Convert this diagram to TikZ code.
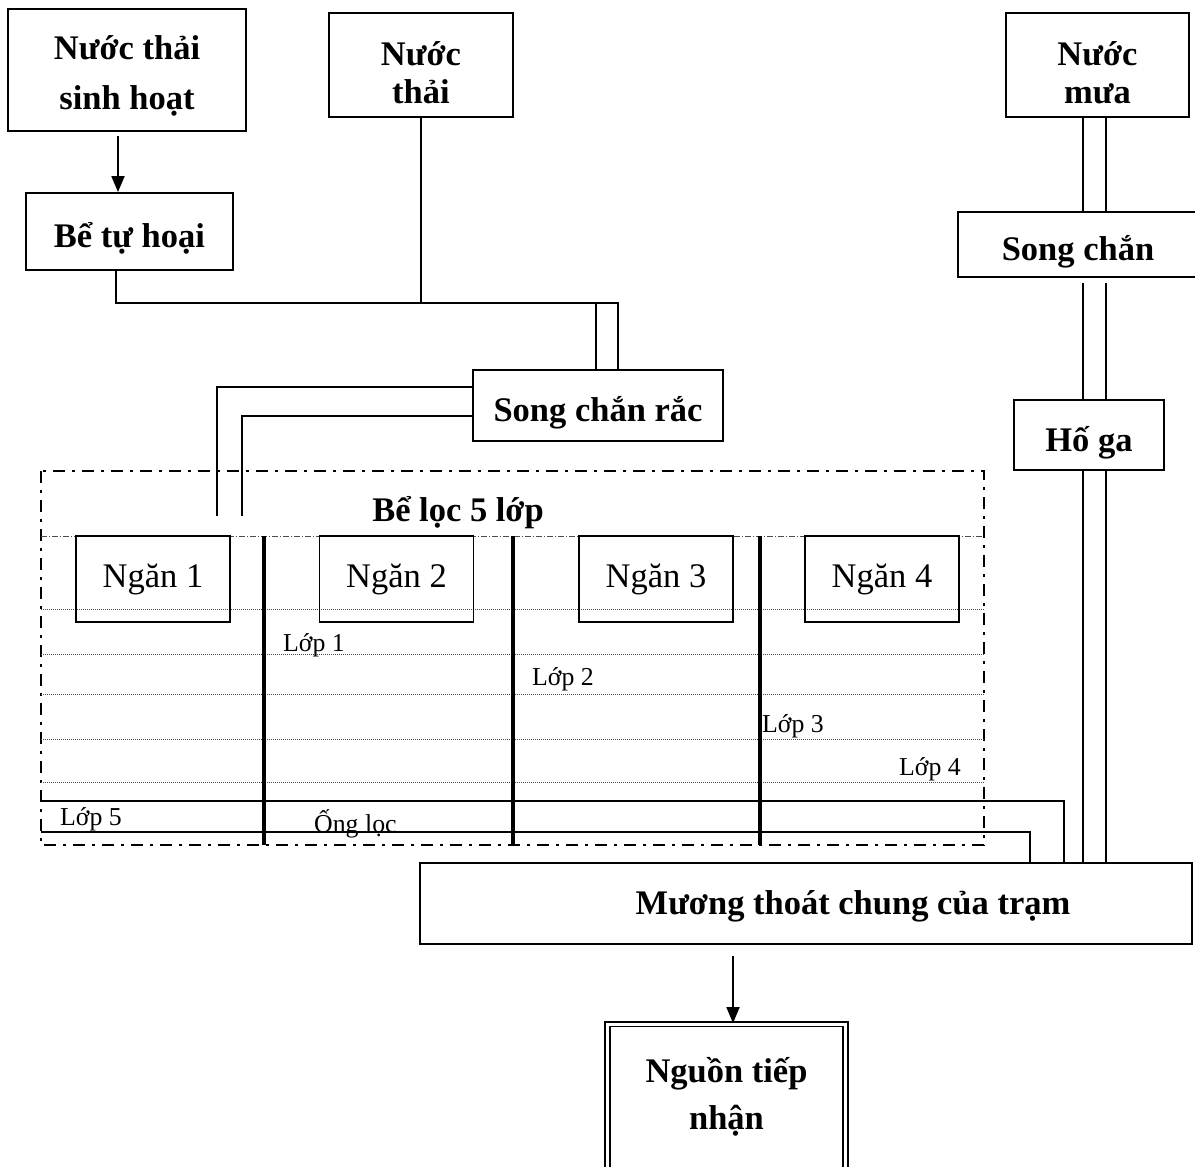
\documentclass[tikz,border=0pt]{standalone}
\usepackage{fontspec}
\setmainfont{Liberation Serif}
\usetikzlibrary{arrows.meta}

\begin{document}
\begin{tikzpicture}[x=1pt, y=-1pt,
  box/.style={draw, line width=1.8pt, inner sep=0pt, align=center,
    text height=40pt, text depth=8pt, font=\bfseries\fontsize{34.5}{38}\selectfont},
  boxtext/.style={align=center, inner sep=0pt, font=\bfseries\fontsize{34.5}{38}\selectfont},
  cell/.style={draw, line width=1.8pt, minimum width=154pt, minimum height=86pt,
    inner sep=0pt, font=\fontsize{34.5}{38}\selectfont},
  pipe/.style={line width=1.8pt},
  arr/.style={line width=1.8pt, -{Triangle[length=16pt,width=13pt]}},
  tank/.style={line width=2.5pt, dash pattern=on 12pt off 7pt on 3pt off 7pt},
  layer/.style={gray!60!black, line width=0.9pt, dash pattern=on 1.2pt off 0.8pt},
  topline/.style={gray!60!black, line width=0.9pt, dash pattern=on 6pt off 2pt on 1pt off 2pt},
  wall/.style={line width=3.5pt},
  lbl/.style={inner sep=0pt, font=\fontsize{25.8}{28}\selectfont}]
  \useasboundingbox (0,0) rectangle (1195,1167);

  % Sources
  \node[box, minimum width=238pt, minimum height=122pt,
    label={[boxtext, yshift=-6pt, font=\bfseries\fontsize{34.5}{50}\selectfont]center:{Nước thải\\sinh hoạt}}]
    (ntsh) at (127,70) {};
  \node[box, minimum width=207pt, minimum height=77pt] (tuhoai) at (129.5,231.5) {Bể tự hoại};
  \node[box, minimum width=184pt, minimum height=104pt,
    label={[boxtext, yshift=-8pt]center:{Nước\\thải}}] (nthai) at (421,65) {};
  \node[box, minimum width=250pt, minimum height=71pt] (sccrac) at (598,405.5) {Song chắn rắc};

  % Rain water branch
  \node[box, minimum width=183pt, minimum height=104pt,
    label={[boxtext, yshift=-8pt]center:{Nước\\mưa}}] (mua) at (1097.5,65) {};
  \node[box, minimum width=240pt, minimum height=65pt] (songchan) at (1078,244.5) {Song chắn};
  \node[box, minimum width=150pt, minimum height=70pt] (hoga) at (1089,435) {Hố ga};

  % Outlet
  \node[box, minimum width=772pt, minimum height=81pt,
    label={[boxtext, xshift=47pt, yshift=-3pt]center:Mương thoát chung của trạm}]
    (muong) at (806,903.5) {};
  \node[box, double, double distance=3pt, minimum width=238.5pt, minimum height=146pt,
    label={[boxtext, font=\bfseries\fontsize{34.5}{47}\selectfont]center:{Nguồn tiếp\\nhận}}]
    (nguon) at (726.5,1097) {};

  % Filter tank
  \draw[tank] (41,471) rectangle (984,845);
  \node[boxtext] (beloc) at (458,513) {Bể lọc 5 lớp};
  \draw[topline] (41,536) -- (984,536);
  \foreach \y in {609,654,694,739,782}
    \draw[layer] (41,\y) -- (984,\y);
  \foreach \x in {264,513,760}
    \draw[wall] (\x,536) -- (\x,845);
  \node[cell] (ngan1) at (153,579) {Ngăn 1};
  \node[cell] (ngan2) at (396.5,579) {Ngăn 2};
  \node[cell] (ngan3) at (656,579) {Ngăn 3};
  \node[cell] (ngan4) at (882,579) {Ngăn 4};
  \node[lbl, anchor=west] (lop1) at (283,645.5) {Lớp 1};
  \node[lbl, anchor=west] (lop2) at (532,679.5) {Lớp 2};
  \node[lbl, anchor=west] (lop3) at (762,726.5) {Lớp 3};
  \node[lbl, anchor=east] (lop4) at (961,769.5) {Lớp 4};
  \node[lbl, anchor=west] (lop5) at (60,819.5) {Lớp 5};
  \node[lbl, anchor=west] (ongloc) at (314,823.5) {Ống lọc};

  % Connectors
  \coordinate (j) at (421,303);
  \coordinate (k) at (618,303);
  \coordinate (i1) at (217,516);
  \coordinate (i2) at (242,516);
  \coordinate (o1) at (41,801);
  \coordinate (o2) at (41,832);
  \coordinate (d1) at (1064,0);
  \coordinate (d2) at (1030,0);
  \coordinate (r1) at (1083,0);
  \coordinate (r2) at (1106,0);
  \draw[arr, shorten <=4pt] ([xshift=-9pt]ntsh.south) -- ([xshift=-9pt]ntsh.south |- tuhoai.north);
  \draw[pipe] ([xshift=-13.5pt]tuhoai.south) |- (k) -- (k |- sccrac.north);
  \draw[pipe] (nthai.south) -- (j);
  \draw[pipe] ([xshift=-2pt]sccrac.north) |- (j);
  \draw[pipe] ([yshift=18.5pt]sccrac.west) -| (i1);
  \draw[pipe] ([yshift=-10.5pt]sccrac.west) -| (i2);
  \foreach \r in {r1,r2} {
    \draw[pipe] (\r |- mua.south) -- (\r |- songchan.north);
    \draw[pipe, shorten <=5pt] (\r |- songchan.south) -- (\r |- hoga.north);
    \draw[pipe] (\r |- hoga.south) -- (\r |- muong.north);
  }
  \draw[pipe] (o1) -| (d1 |- muong.north);
  \draw[pipe] (o2) -| (d2 |- muong.north);
  \draw[arr, shorten <=11pt] ([xshift=-73pt]muong.south) -- ([xshift=-73pt]muong.south |- nguon.north);
\end{tikzpicture}
\end{document}
